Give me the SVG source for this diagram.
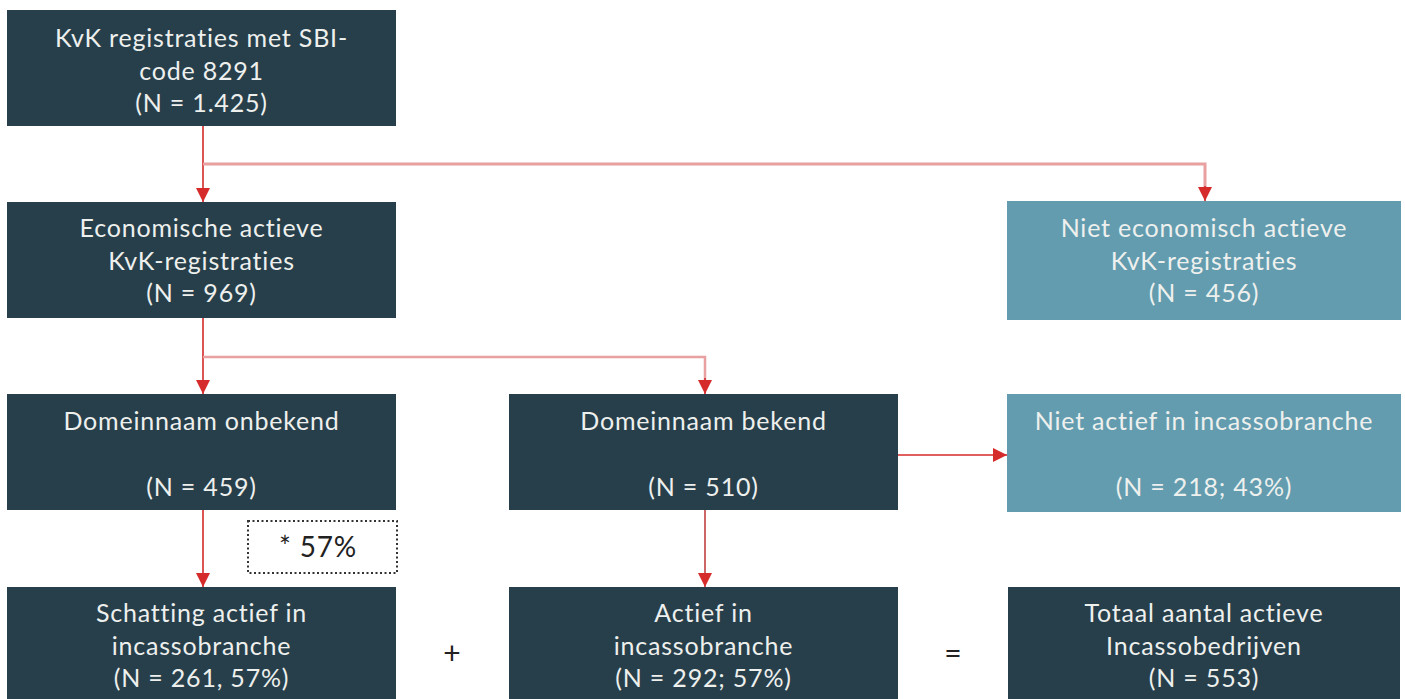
<svg xmlns="http://www.w3.org/2000/svg" width="1405" height="699" viewBox="0 0 1405 699">
<style>
.dk{fill:#273f4a}
.lt{fill:#629cae}
text{font-family:Lato,"Open Sans","Liberation Sans",sans-serif;font-size:25px;letter-spacing:0.8px;fill:#eef0ee;text-anchor:middle}
.op{fill:#222;font-size:30px;letter-spacing:0}
.note{fill:#222;font-size:28px}
.ln{fill:none;stroke:#d42a2a;stroke-width:1.6}
.lnl{fill:none;stroke:#e8a0a0;stroke-width:3}
.lnd{fill:none;stroke:#c04040;stroke-width:1.6}
</style>
<defs>
<marker id="ah" viewBox="0 0 10 10" refX="10" refY="5" markerWidth="14" markerHeight="14" markerUnits="userSpaceOnUse" orient="auto">
<path d="M0,0 L10,5 L0,10 z" fill="#d62b2b"/>
</marker>
</defs>
<g id="connectors">
<path class="ln" d="M203,126 V202" marker-end="url(#ah)"/>
<path class="lnl" d="M203,164 H1205 V188"/>
<path class="ln" d="M1205,186 V201" marker-end="url(#ah)"/>
<path class="ln" d="M203,318 V394" marker-end="url(#ah)"/>
<path class="lnl" d="M203,357 H705 V382" style="stroke-width:2.5"/>
<path class="ln" d="M705,378 V394" marker-end="url(#ah)"/>
<path class="ln" d="M898,455 H1007" marker-end="url(#ah)"/>
<path class="ln" d="M203,510 V587" marker-end="url(#ah)"/>
<path class="lnd" d="M705,510 V587" marker-end="url(#ah)"/>
</g>
<g id="n1"><rect class="dk" x="7" y="10" width="389" height="116"/>
<text x="201.5" y="47">KvK registraties met SBI-</text><text x="201.5" y="80">code 8291</text><text x="201.5" y="112">(N = 1.425)</text></g>
<g id="n2"><rect class="dk" x="7" y="202" width="389" height="116"/>
<text x="201.5" y="237">Economische actieve</text><text x="201.5" y="270">KvK-registraties</text><text x="201.5" y="302">(N = 969)</text></g>
<g id="n3"><rect class="lt" x="1007" y="201" width="394" height="119"/>
<text x="1204" y="237">Niet economisch actieve</text><text x="1204" y="270">KvK-registraties</text><text x="1204" y="302">(N = 456)</text></g>
<g id="n4"><rect class="dk" x="7" y="394" width="389" height="116"/>
<text x="201.5" y="430">Domeinnaam onbekend</text><text x="201.5" y="496">(N = 459)</text></g>
<g id="n5"><rect class="dk" x="509" y="394" width="389" height="116"/>
<text x="703.5" y="430">Domeinnaam bekend</text><text x="703.5" y="496">(N = 510)</text></g>
<g id="n6"><rect class="lt" x="1007" y="394" width="394" height="118"/>
<text x="1204" y="430">Niet actief in incassobranche</text><text x="1204" y="496">(N = 218; 43%)</text></g>
<g id="note"><rect x="248" y="521" width="149" height="52" fill="none" stroke="#333" stroke-width="2" stroke-dasharray="2,2.5"/>
<text class="note" x="318" y="557">* 57%</text></g>
<g id="n7"><rect class="dk" x="7" y="587" width="389" height="112"/>
<text x="201.5" y="622">Schatting actief in</text><text x="201.5" y="655">incassobranche</text><text x="201.5" y="687">(N = 261, 57%)</text></g>
<g id="n8"><rect class="dk" x="509" y="587" width="389" height="112"/>
<text x="703.5" y="622">Actief in</text><text x="703.5" y="655">incassobranche</text><text x="703.5" y="687">(N = 292; 57%)</text></g>
<g id="n9"><rect class="dk" x="1008" y="587" width="392" height="112"/>
<text x="1204" y="622">Totaal aantal actieve</text><text x="1204" y="655">Incassobedrijven</text><text x="1204" y="687">(N = 553)</text></g>
<g id="ops"><text class="op" x="452" y="664">+</text><text class="op" x="953" y="664">=</text></g>
</svg>
